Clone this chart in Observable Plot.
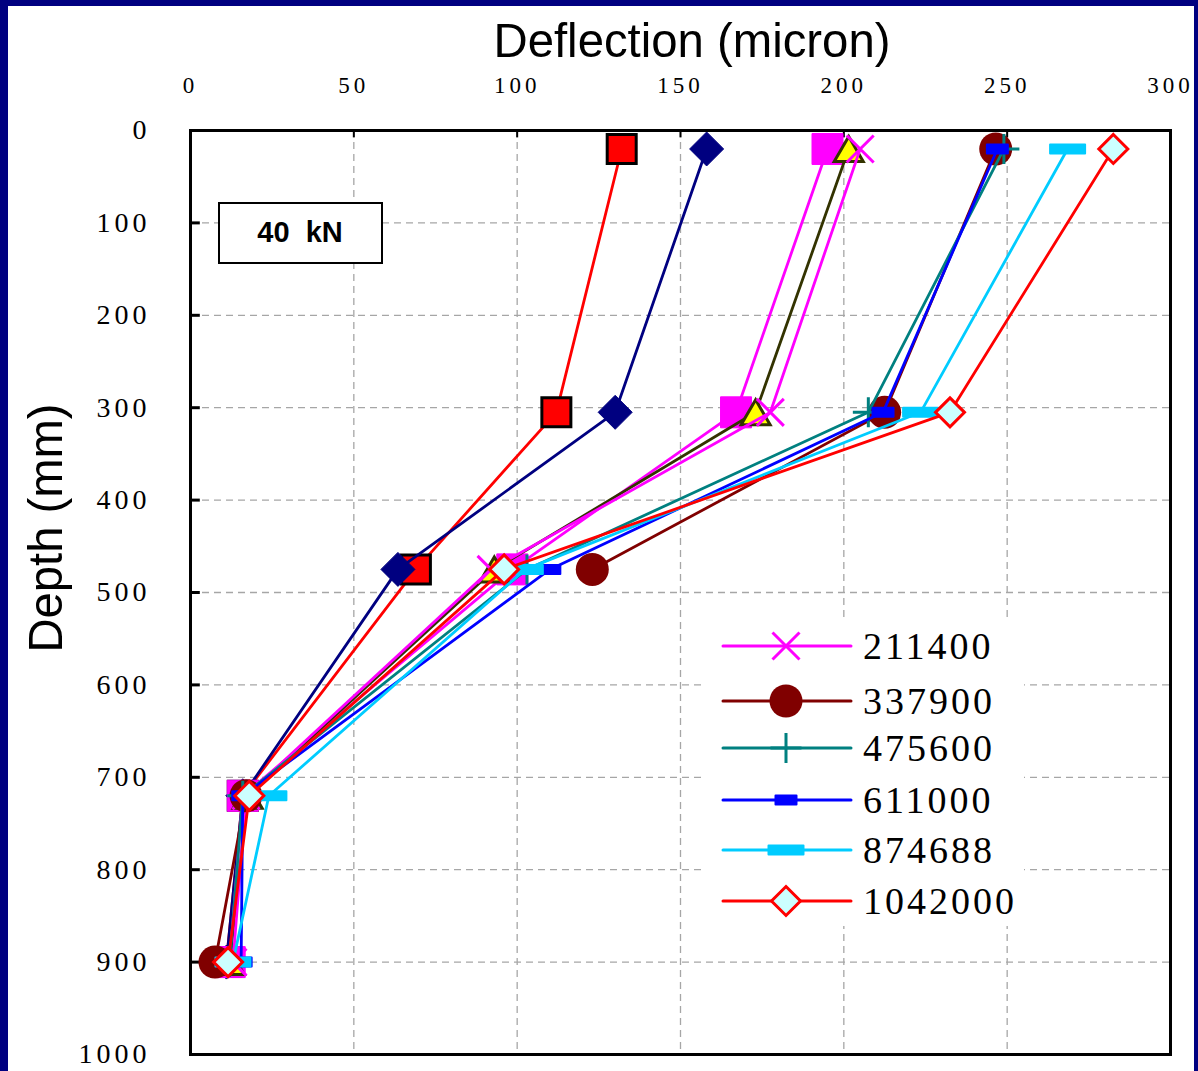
<!DOCTYPE html>
<html>
<head>
<meta charset="utf-8">
<script src="https://cdn.jsdelivr.net/npm/d3@7"></script>
<script src="https://cdn.jsdelivr.net/npm/@observablehq/plot@0.6"></script>
<style>
  html, body { margin: 0; padding: 0; background: #fff; }
  #wrap { position: relative; width: 1198px; height: 1071px; overflow: hidden; background: #fff; }
  #wrap > svg { position: absolute; left: 0; top: 0; }
  .bar { position: absolute; background: #000080; }
  g[aria-label="x-axis tick label"] text { letter-spacing: 4px; }
  g[aria-label="y-axis tick label"] text { letter-spacing: 4px; }
</style>
</head>
<body>
<div id="wrap"></div>
<script>
// ---------- data ----------
const depths = [20, 305, 475, 720, 900];
const seriesNames = ["s1", "s2", "s3", "s4", "211400", "337900", "475600", "611000", "874688", "1042000"];
const vS1      = [132, 112, 69, 16, 11];
const vS2      = [158, 130, 63.5, 16, 11];
const vS3      = [195, 167, 98.5, 16, 12];
const vS4      = [201.5, 173, 93, 17.5, 12];
const v211400  = [205, 177.5, 92, 17, 13];
const v337900  = [246.5, 212.5, 123, 17, 7.5];
const v475600  = [249, 207.5, 103, 16, 12];
const v611000  = [247, 212, 110, 16, 15.5];
const v874688  = [268.5, 223.5, 102.5, 24, 13];
const v1042000 = [282.5, 232.5, 96, 18, 11.5];
const xTicks = [0, 50, 100, 150, 200, 250, 300];
const yTicks = [0, 100, 200, 300, 400, 500, 600, 700, 800, 900, 1000];
const legendNames = ["211400", "337900", "475600", "611000", "874688", "1042000"];

// ---------- symbols ----------
const sym = {
  square: s => ({draw(c){ c.rect(-s/2, -s/2, s, s); }}),
  rect: (w, h) => ({draw(c){ c.rect(-w/2, -h/2, w, h); }}),
  diamond: d => ({draw(c){ c.moveTo(0, -d/2); c.lineTo(d/2, 0); c.lineTo(0, d/2); c.lineTo(-d/2, 0); c.closePath(); }}),
  triangle: (w, h) => ({draw(c){ c.moveTo(0, -h/2); c.lineTo(w/2, h/2); c.lineTo(-w/2, h/2); c.closePath(); }}),
  circle: d => ({draw(c){ c.moveTo(d/2, 0); c.arc(0, 0, d/2, 0, 2*Math.PI); }}),
  times: d => ({draw(c){ const a = d/2; c.moveTo(-a, -a); c.lineTo(a, a); c.moveTo(a, -a); c.lineTo(-a, a); }}),
  plus: (w, h) => ({draw(c){ c.moveTo(-w/2, 0); c.lineTo(w/2, 0); c.moveTo(0, -h/2); c.lineTo(0, h/2); }})
};

const styles = [
  {vals: vS1, line: "#ff0000", symbol: sym.square(29), fill: "#ff0000", stroke: "#000000", sw: 3},
  {vals: vS2, line: "#000080", symbol: sym.diamond(34), fill: "#000080", stroke: "#000080", sw: 1},
  {vals: vS3, line: "#ff00ff", symbol: sym.square(31), fill: "#ff00ff", stroke: "#ff00ff", sw: 1},
  {vals: vS4, line: "#333300", symbol: sym.triangle(29, 25), fill: "#ffff00", stroke: "#333300", sw: 3},
  {vals: v211400, line: "#ff00ff", symbol: sym.times(27), fill: "none", stroke: "#ff00ff", sw: 3},
  {vals: v337900, line: "#800000", symbol: sym.circle(33), fill: "#800000", stroke: "none", sw: 0, gapAfter: 2},
  {vals: v475600, line: "#008080", symbol: sym.plus(31, 30), fill: "none", stroke: "#008080", sw: 3},
  {vals: v611000, line: "#0000ff", symbol: sym.rect(21, 9), fill: "#0000ff", stroke: "#0000ff", sw: 2},
  {vals: v874688, line: "#00ccff", symbol: sym.rect(35, 9), fill: "#00ccff", stroke: "#00ccff", sw: 2},
  {vals: v1042000, line: "#ff0000", symbol: sym.diamond(29), fill: "#ccffff", stroke: "#ff0000", sw: 3}
];

// ---------- marks ----------
const baseMarks = [
  Plot.ruleX(xTicks.slice(1, -1), {stroke: "#a6a6a6", strokeWidth: 1.3, strokeDasharray: "7,5"}),
  Plot.ruleY(yTicks.slice(1, -1), {stroke: "#a6a6a6", strokeWidth: 1.3, strokeDasharray: "7,5"}),
  Plot.ruleY(yTicks, {x1: 0, x2: 3, stroke: "#000", strokeWidth: 3}),
  Plot.ruleX(xTicks, {y1: 0, y2: 8, stroke: "#000", strokeWidth: 2}),
  Plot.axisX({anchor: "top", ticks: xTicks, tickFormat: d => String(d), tickSize: 0, tickPadding: 38, fontSize: 23,
    fontFamily: "Liberation Serif, Times New Roman, serif", label: null}),
  Plot.axisY({anchor: "left", ticks: yTicks, tickFormat: d => String(d), tickSize: 0, tickPadding: 40, fontSize: 28,
    fontFamily: "Liberation Serif, Times New Roman, serif", label: null})
];
// each series: line then markers, later series on top
const seriesMarks = [];
styles.forEach((s, i) => {
  const data = depths.map((d, j) => ({depth: d, v: s.vals[j], name: seriesNames[i]}));
  const lineData = [];
  data.forEach((p, j) => {
    lineData.push(p);
    if (s.gapAfter === j) lineData.push({depth: NaN, v: NaN, name: p.name});
  });
  seriesMarks.push(Plot.line(lineData, {x: "v", y: "depth", stroke: s.line, strokeWidth: 2.8}));
  seriesMarks.push(Plot.dot(data, {x: "v", y: "depth", r: 5, symbol: s.symbol, fill: s.fill,
    stroke: s.stroke, strokeWidth: s.sw, strokeLinejoin: s.sw === 2 ? "round" : "miter"}));
});

const chart = Plot.plot({
  width: 1198, height: 1071,
  marginLeft: 190, marginRight: 28, marginTop: 130, marginBottom: 17,
  x: {domain: [0, 300]},
  y: {domain: [0, 1000], reverse: true},
  style: {background: "transparent"},
  marks: [
    ...baseMarks,
    ...seriesMarks,
    Plot.frame({stroke: "#000", strokeWidth: 3})
  ]
});
const wrap = document.getElementById("wrap");
wrap.appendChild(chart);

// ---------- overlay: titles, label box, legend ----------
const ov = d3.select(wrap).append("svg")
  .attr("width", 1198).attr("height", 1071)
  .style("position", "absolute").style("left", 0).style("top", 0);

ov.append("text").text("Deflection (micron)")
  .attr("x", 692).attr("y", 57).attr("text-anchor", "middle")
  .attr("font-family", "Liberation Sans, Arial, sans-serif").attr("font-size", 49)
  .attr("textLength", 397).attr("lengthAdjust", "spacingAndGlyphs");

ov.append("text").text("Depth (mm)")
  .attr("transform", "translate(62,528) rotate(-90)").attr("text-anchor", "middle")
  .attr("font-family", "Liberation Sans, Arial, sans-serif").attr("font-size", 49)
  .attr("textLength", 249).attr("lengthAdjust", "spacingAndGlyphs");

ov.append("rect").attr("x", 219).attr("y", 203).attr("width", 163).attr("height", 60)
  .attr("fill", "#fff").attr("stroke", "#000").attr("stroke-width", 2);
ov.append("text").text("40  kN").style("white-space", "pre")
  .attr("x", 300).attr("y", 242).attr("text-anchor", "middle")
  .attr("font-family", "Liberation Sans, Arial, sans-serif").attr("font-size", 29).attr("font-weight", "bold");

// legend
ov.append("rect").attr("x", 702).attr("y", 618).attr("width", 322).attr("height", 308).attr("fill", "#fff");
const legendY = [646, 701, 748, 800, 850, 901];
legendNames.forEach((name, k) => {
  const s = styles[4 + k];
  const y = legendY[k];
  ov.append("line").attr("x1", 723).attr("x2", 851).attr("y1", y).attr("y2", y)
    .attr("stroke", s.line).attr("stroke-width", 3).attr("stroke-linecap", "round");
  ov.append("path").attr("d", d3.symbol(s.symbol)())
    .attr("transform", `translate(786,${y})`)
    .attr("fill", s.fill).attr("stroke", s.stroke).attr("stroke-width", s.sw)
    .attr("stroke-linejoin", s.sw === 2 ? "round" : "miter");
  ov.append("text").text(name).attr("x", 863).attr("y", y + 13)
    .attr("font-family", "Liberation Serif, Times New Roman, serif").attr("font-size", 38)
    .style("letter-spacing", "3px");
});

// page border strips
[["0px", "0px", "8px", "1071px"], ["0px", "0px", "1198px", "6px"], ["1194px", "0px", "4px", "1071px"]]
  .forEach(([l, t, w, h]) => {
    const d = document.createElement("div");
    d.className = "bar";
    Object.assign(d.style, {left: l, top: t, width: w, height: h});
    wrap.appendChild(d);
  });
</script>
</body>
</html>
